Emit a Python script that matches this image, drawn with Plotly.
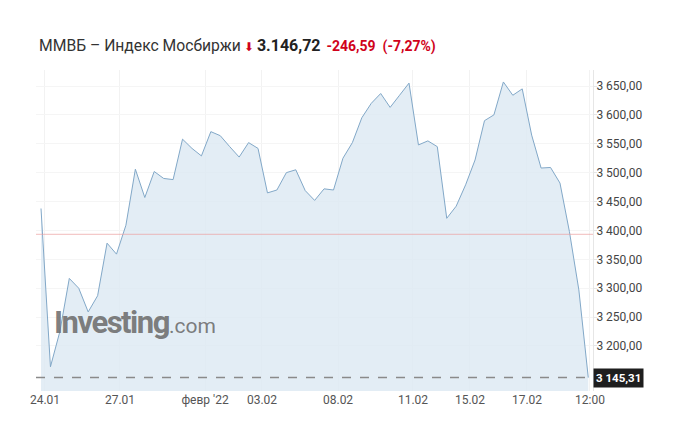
import plotly.graph_objects as go

# ---- data ----
idx = list(range(59))
values = [3438, 3164, 3225, 3317, 3300, 3259, 3287, 3378, 3359, 3409,
          3506, 3457, 3502, 3490, 3488, 3558, 3542, 3529, 3571, 3564,
          3545, 3527, 3552, 3542, 3465, 3470, 3500, 3505, 3469, 3452,
          3472, 3470, 3525, 3552, 3595, 3620, 3637, 3613, 3634, 3655,
          3548, 3555, 3545, 3421, 3442, 3479, 3522, 3590, 3600, 3657,
          3634, 3645, 3565, 3508, 3509, 3482, 3398, 3297, 3145.31]
prev_close = 3393.31
last_value = 3145.31
x_tick_pos = [0.42, 8.37, 17.38, 23.42, 31.48, 39.42, 45.46, 51.5, 58.18]
x_tick_text = ["24.01", "27.01", "февр '22", "03.02", "08.02", "11.02", "15.02", "17.02", "12:00"]
y_tick_vals = [3200, 3250, 3300, 3350, 3400, 3450, 3500, 3550, 3600, 3650]
y_tick_text = ["3 200,00", "3 250,00", "3 300,00", "3 350,00", "3 400,00",
               "3 450,00", "3 500,00", "3 550,00", "3 600,00", "3 650,00"]

FONT = "Roboto, Arial, sans-serif"

fig = go.Figure()
fig.add_trace(go.Scatter(
    x=idx, y=values, mode="lines",
    line=dict(color="rgb(130,168,200)", width=1),
    fill="tozeroy", fillcolor="rgba(220,232,243,0.8)",
    hoverinfo="skip", showlegend=False,
))

fig.add_hline(y=prev_close, line=dict(color="rgba(236,160,160,0.7)", width=1))
fig.add_hline(y=last_value, line=dict(color="#8a8a8a", width=1.5, dash="dash"))

# page has an 8px body margin; plot area kept at page x 36..593, y 70..391
fig.update_layout(
    width=691, height=445,
    margin=dict(l=28, r=106, t=62, b=62),
    paper_bgcolor="white", plot_bgcolor="white",
    font=dict(family=FONT, size=12, color="#555"),
    xaxis=dict(
        range=[-0.53, 58.5], tickvals=x_tick_pos, ticktext=x_tick_text,
        showgrid=True, gridcolor="#f2f2f2", gridwidth=1,
        zeroline=False, showline=False, ticks="",
        tickfont=dict(family=FONT, size=12, color="#555"),
    ),
    yaxis=dict(
        side="right", range=[3122.1, 3677.7],
        tickvals=y_tick_vals, ticktext=y_tick_text,
        showgrid=True, gridcolor="#f5f5f5", gridwidth=1,
        zeroline=False, showline=True, linecolor="#e6e6e6", linewidth=1,
        ticks="outside", ticklen=3, tickcolor="#e6e6e6",
        ticklabelstandoff=-3,
        tickfont=dict(family=FONT, size=12, color="#444"),
    ),
)

# title line
fig.add_annotation(
    xref="paper", yref="paper", x=(37 - 36) / 557, y=(391 - 45) / 321,
    xanchor="left", yanchor="middle", showarrow=False, align="left",
    text=("<span style='color:#333;font-size:15.7px'>ММВБ – Индекс Мосбиржи</span> "
          "<span style='color:#d0021b;font-size:12px;font-family:DejaVu Sans'>⬇</span> "
          "<span style='color:#222;font-size:16px'><b>3.146,72</b></span>  "
          "<span style='color:#d0021b;font-size:14px'><b>-246,59  (-7,27%)</b></span>"),
    font=dict(family=FONT),
)

# last value label
fig.add_annotation(
    xref="paper", yref="y", x=1.0, y=last_value, xanchor="left", yanchor="middle",
    showarrow=False, text="<b>3 145,31</b>", bgcolor="#1e1e1e",
    font=dict(family=FONT, size=11.5, color="white"), borderpad=2,
)

# watermark
fig.add_annotation(
    xref="paper", yref="paper", x=(52 - 36) / 557, y=(391 - 322) / 321,
    xanchor="left", yanchor="middle", showarrow=False,
    text="<b style='font-size:31px;letter-spacing:-1.5px'>Investing</b><span style='font-size:21px'>.com</span>",
    font=dict(family=FONT, color="rgba(110,110,110,0.9)"),
)

fig.write_html("out.html")
